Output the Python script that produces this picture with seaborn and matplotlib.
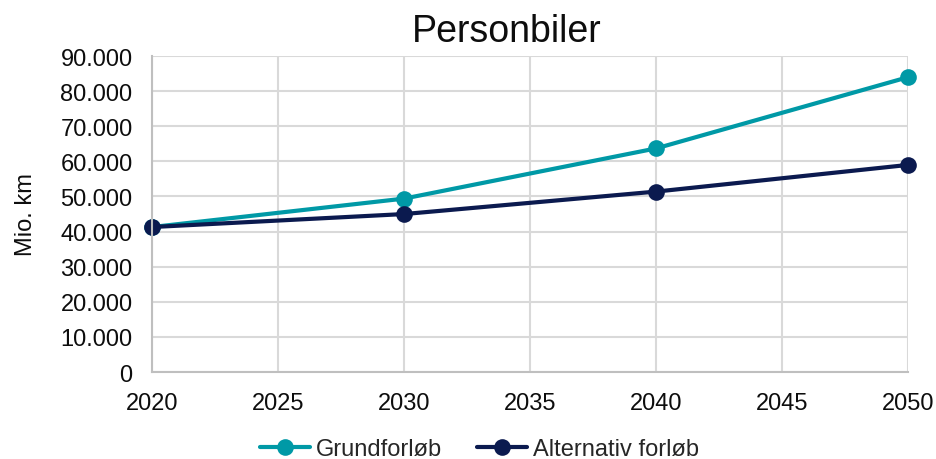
import matplotlib
matplotlib.use("Agg")
import matplotlib.pyplot as plt
import matplotlib.ticker as mticker
import seaborn as sns
import pandas as pd

years = [2020, 2030, 2040, 2050]
grundforloeb = [41300, 49400, 63700, 84000]
alternativ = [41300, 45000, 51400, 59000]
series_names = ["Grundforløb", "Alternativ forløb"]
colors = ["#0099A6", "#0B1A4F"]

df = pd.DataFrame({
    "År": years * 2,
    "Mio. km": grundforloeb + alternativ,
    "Forløb": [series_names[0]] * len(years) + [series_names[1]] * len(years),
})

sns.set_theme(style="white")
plt.rcParams["font.family"] = ["Liberation Sans", "DejaVu Sans"]

text_color = "#0d0d0d"
fig = plt.figure(figsize=(9.36, 4.6), dpi=100)
ax = fig.add_axes([0.1624, 0.189, 0.808, 0.687])

sns.lineplot(data=df, x="År", y="Mio. km", hue="Forløb", palette=colors,
             marker="o", markersize=12, markeredgewidth=0, linewidth=3,
             ax=ax, legend=True)

ax.set_xlim(2020, 2050)
ax.set_ylim(0, 90000)
ax.xaxis.set_major_locator(mticker.MultipleLocator(5))
ax.yaxis.set_major_locator(mticker.MultipleLocator(10000))
ax.yaxis.set_major_formatter(mticker.FuncFormatter(
    lambda v, p: f"{int(v):,}".replace(",", ".")))

ax.grid(True, color="#D9D9D9", linewidth=1.5)
for s in ["top", "right"]:
    ax.spines[s].set_visible(False)
for s in ["left", "bottom"]:
    ax.spines[s].set_color("#BFBFBF")
    ax.spines[s].set_linewidth(1.5)
    ax.spines[s].set_zorder(3)

ax.tick_params(axis="y", labelsize=17, colors=text_color, length=0, pad=14)
ax.tick_params(axis="x", labelsize=17, colors=text_color, length=0, pad=14)
ax.set_xlabel("")
ax.set_ylabel("Mio. km", fontsize=17, color=text_color)
ax.yaxis.set_label_coords(-0.152, 0.5)
fig.text(0.541, 0.909, "Personbiler", fontsize=27, color=text_color,
         ha="center", va="baseline")

handles, labels = ax.get_legend_handles_labels()
ax.legend(handles, labels, loc="center", bbox_to_anchor=(0.433, -0.243),
          ncol=2, frameon=False, fontsize=17, handlelength=2.15,
          columnspacing=1.45, handletextpad=0.25)

for line in ax.lines:
    line.set_clip_on(False)

fig.savefig("out.png", dpi=100)
